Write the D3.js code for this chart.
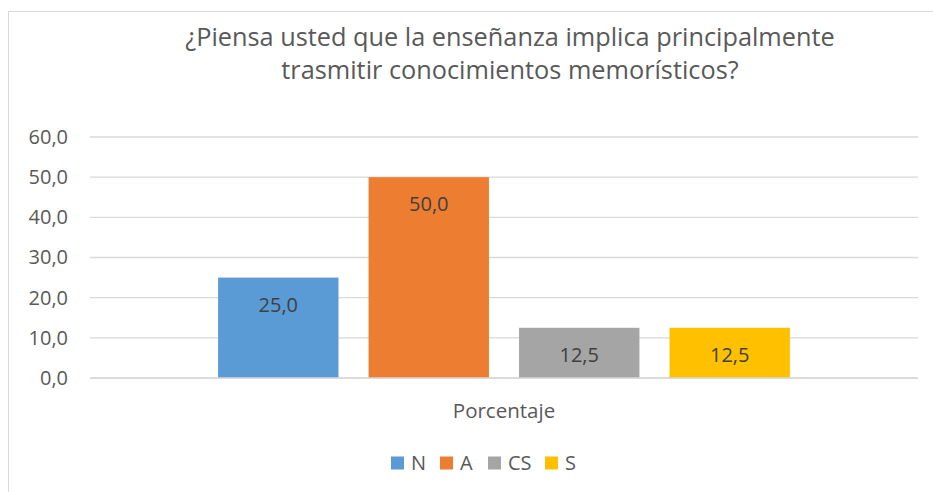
<!DOCTYPE html>
<html lang="es">
<head>
<meta charset="UTF-8">
<script src="https://d3js.org/d3.v7.min.js"></script>
<style>
  body { margin: 0; background: #fff; }
  text { font-family: "Open Sans", sans-serif; }
</style>
</head>
<body>
<div id="chart"></div>
<script>
// datos
const categories = ["Porcentaje"];
const series = ["N", "A", "CS", "S"];
const values = [25.0, 50.0, 12.5, 12.5];
const yTicks = [0, 10, 20, 30, 40, 50, 60];
const colors = ["#5B9BD5", "#ED7D31", "#A5A5A5", "#FFC000"];
const titleLines = ["¿Piensa usted que la enseñanza implica principalmente",
                    "trasmitir conocimientos memorísticos?"];

const width = 933, height = 492;
const fmt = d => d.toFixed(1).replace(".", ",");

const svg = d3.select("#chart").append("svg")
    .attr("width", width)
    .attr("height", height);

// marco del gráfico
svg.append("rect")
    .attr("x", 8.5).attr("y", 11.5)
    .attr("width", 940).attr("height", 500)
    .attr("fill", "#fff")
    .attr("stroke", "#d9d9d9");

// título
svg.append("text")
    .attr("text-anchor", "middle")
    .attr("font-size", "25.3px")
    .attr("fill", "#595959")
    .selectAll("tspan")
    .data(titleLines)
    .enter().append("tspan")
    .attr("x", 510)
    .attr("y", (d, i) => 46 + i * 33)
    .text(d => d);

const plotL = 90, plotR = 918, plotT = 137, plotB = 378;

const y = d3.scaleLinear().domain([0, 60]).range([plotB, plotT]);
const x0 = d3.scaleBand().domain(categories).range([plotL, plotR]).paddingInner(0).paddingOuter(0.224);
const x1 = d3.scaleBand().domain(series).range([0, x0.bandwidth()]).paddingInner(0.2);

// líneas de cuadrícula
svg.append("g")
    .selectAll("line")
    .data(yTicks)
    .enter().append("line")
    .attr("x1", plotL).attr("x2", plotR)
    .attr("y1", d => y(d)).attr("y2", d => y(d))
    .attr("stroke", "#d9d9d9")
    .attr("stroke-width", 1.3);

// eje y
const yAxis = svg.append("g")
    .attr("transform", "translate(" + plotL + ",0)")
    .call(d3.axisLeft(y).tickValues(yTicks).tickFormat(fmt).tickSize(0).tickPadding(22));
yAxis.select(".domain").remove();
yAxis.selectAll("text")
    .attr("font-size", "20px")
    .attr("fill", "#595959")
    .attr("font-family", "Open Sans, sans-serif");

// barras
const g = svg.append("g");
const bars = g.selectAll(".bar")
    .data(series.map((s, i) => ({ s: s, v: values[i], c: colors[i] })))
    .enter().append("g");

bars.append("rect")
    .attr("x", d => x0(categories[0]) + x1(d.s))
    .attr("y", d => y(d.v))
    .attr("width", x1.bandwidth())
    .attr("height", d => plotB - y(d.v))
    .attr("fill", d => d.c);

bars.append("text")
    .attr("x", d => x0(categories[0]) + x1(d.s) + x1.bandwidth() / 2)
    .attr("y", d => y(d.v) + 34)
    .attr("text-anchor", "middle")
    .attr("font-size", "20px")
    .attr("fill", "#404040")
    .text(d => fmt(d.v));

// línea base
svg.append("line")
    .attr("x1", plotL).attr("x2", plotR)
    .attr("y1", plotB).attr("y2", plotB)
    .attr("stroke", "#d9d9d9")
    .attr("stroke-width", 1.3);

// etiqueta de categoría
svg.append("text")
    .attr("x", x0(categories[0]) + x0.bandwidth() / 2)
    .attr("y", 418)
    .attr("text-anchor", "middle")
    .attr("font-size", "20.5px")
    .attr("fill", "#595959")
    .text(categories[0]);

// leyenda
const legendX = [391, 440, 488, 545];
const legend = svg.append("g")
    .selectAll("g")
    .data(series)
    .enter().append("g")
    .attr("transform", (d, i) => "translate(" + legendX[i] + ",456.5)");
legend.append("rect")
    .attr("width", 13).attr("height", 13)
    .attr("fill", (d, i) => colors[i]);
legend.append("text")
    .attr("x", 20).attr("y", 13)
    .attr("font-size", "20px")
    .attr("fill", "#595959")
    .text(d => d);
</script>
</body>
</html>
